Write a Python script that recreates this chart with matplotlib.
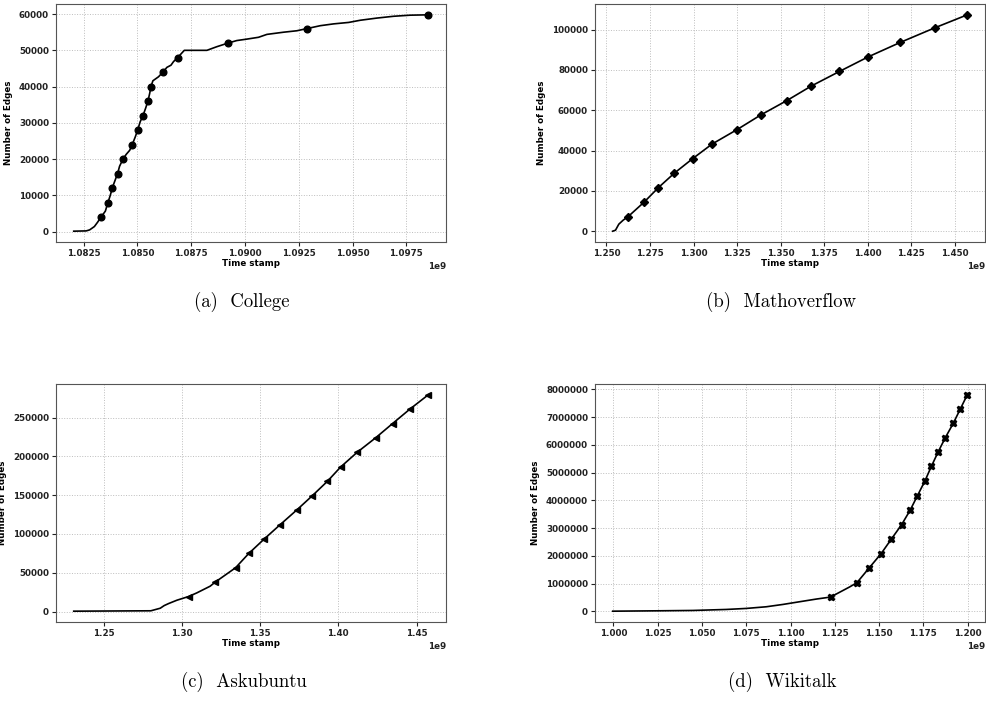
import numpy as np
import matplotlib
matplotlib.use("Agg")
import matplotlib.pyplot as plt
from matplotlib.ticker import ScalarFormatter, MultipleLocator

# time stamps in units of 1e9 seconds
college_x = [1.08204, 1.08262, 1.08278, 1.08300, 1.08315, 1.08331, 1.08351, 1.08363,
             1.08374, 1.08383, 1.08396, 1.08408, 1.08417, 1.08433, 1.08448, 1.08464,
             1.08476, 1.08490, 1.08501, 1.08513, 1.08526, 1.08538, 1.08549, 1.08557,
             1.08563, 1.08572, 1.08598, 1.08619, 1.08637, 1.08656, 1.08668, 1.08687,
             1.08718, 1.08823, 1.08869, 1.08921, 1.08962, 1.09009, 1.09063, 1.09102,
             1.09179, 1.09241, 1.09288, 1.09350, 1.09412, 1.09482, 1.09536, 1.09613,
             1.09691, 1.09768, 1.09852]
college_y = [100, 180, 460, 1380, 2580, 4000, 5630, 8000,
             10000, 12000, 14100, 16000, 18000, 20000, 21300, 22400,
             24000, 26100, 28000, 30300, 32000, 34000, 36000, 38100,
             40000, 41600, 42700, 44000, 45300, 45900, 46900, 48000,
             50000, 50000, 51000, 52000, 52700, 53100, 53600, 54400,
             55000, 55400, 56000, 56800, 57300, 57700, 58300, 58900,
             59400, 59700, 59800]
college_mx = [1.08331, 1.08363, 1.08383, 1.08408, 1.08433, 1.08476, 1.08501, 1.08526,
              1.08549, 1.08563, 1.08619, 1.08687, 1.08921, 1.09288, 1.09852]
college_my = [4000, 8000, 12000, 16000, 20000, 24000, 28000, 32000,
              36000, 40000, 44000, 48000, 52000, 56000, 59800]

math_mx = [1.2624, 1.2716, 1.2798, 1.2890, 1.2995, 1.3106, 1.3250, 1.3385,
           1.3536, 1.3676, 1.3837, 1.4001, 1.4186, 1.4383, 1.4571]
math_my = [7200, 14400, 21600, 28800, 36000, 43200, 50400, 57600,
           64800, 72000, 79200, 86400, 93600, 100800, 107300]
math_x = [1.2536, 1.2552, 1.2571, 1.2596] + math_mx
math_y = [0, 500, 3480, 5470] + math_my

ask_mx = [1.3043, 1.3213, 1.3343, 1.3428, 1.3528, 1.3628, 1.3734, 1.3834,
          1.3930, 1.4015, 1.4121, 1.4238, 1.4347, 1.4457, 1.4575]
ask_my = [19400, 37900, 56400, 74900, 93800, 111900, 130800, 149300,
          167800, 186300, 205300, 223800, 242300, 260800, 279300]
ask_x = [1.2309, 1.2802, 1.2862, 1.2887, 1.2915, 1.2968, 1.3043, 1.3096, 1.3181,
         1.3213, 1.3343, 1.3428, 1.3528, 1.3628, 1.3734, 1.3834,
         1.3930, 1.4015, 1.4121, 1.4238, 1.4347, 1.4457, 1.4575]
ask_y = [500, 1000, 4300, 7700, 10300, 14600, 19400, 24100, 32700,
         37900, 56400, 74900, 93800, 111900, 130800, 149300,
         167800, 186300, 205300, 223800, 242300, 260800, 279300]

wiki_mx = [1.1226, 1.1375, 1.1444, 1.1512, 1.1569, 1.1627, 1.1676, 1.1716,
           1.1759, 1.1795, 1.1834, 1.1874, 1.1919, 1.1959, 1.1998]
wiki_my = [519000, 1037700, 1568600, 2087500, 2606300, 3125200, 3656100, 4162900,
           4705900, 5224800, 5755700, 6262400, 6781300, 7300200, 7807000]
wiki_x = [0.9996, 1.0260, 1.0448, 1.0637, 1.0750, 1.0863, 1.0957, 1.1051, 1.1145,
          1.1226, 1.1333] + wiki_mx[1:]
wiki_y = [10000, 24000, 36000, 72000, 109000, 169000, 253000, 350000, 446000,
          519000, 881000] + wiki_my[1:]

captions = ["(a)  College", "(b)  Mathoverflow", "(c)  Askubuntu", "(d)  Wikitalk"]

plt.rcParams["font.family"] = "DejaVu Sans"
plt.rcParams["font.weight"] = "bold"
plt.rcParams["font.size"] = 6.3

fig = plt.figure(figsize=(9.86, 7.02), dpi=100)
W, H = 986, 702
boxes = [(56, 4), (595, 4), (56, 384), (595, 384)]
series = [(college_x, college_y, college_mx, college_my, "o", 4.8, 10000),
          (math_x, math_y, math_mx, math_my, "D", 4.3, 20000),
          (ask_x, ask_y, ask_mx, ask_my, "<", 4.5, 50000),
          (wiki_x, wiki_y, wiki_mx, wiki_my, "X", 5, 1000000)]
cap_pos = [(242, 302), (781, 302), (244, 682), (782, 682)]

for i, (lx, ly, mx, my, mk, ms, ystep) in enumerate(series):
    left, top = boxes[i]
    ax = fig.add_axes([left / W, 1 - (top + 238) / H, 390 / W, 238 / H])
    ax.plot(np.array(lx) * 1e9, ly, "-k", lw=1.2)
    ax.plot(np.array(mx) * 1e9, my, mk, color="k", ms=ms)
    ax.grid(True, color="#bdbdbd", linestyle=":", linewidth=0.7)
    ax.yaxis.set_major_locator(MultipleLocator(ystep))
    ax.ticklabel_format(axis="y", style="plain")
    fmt = ScalarFormatter(useOffset=False)
    fmt.set_powerlimits((0, 0))
    ax.xaxis.set_major_formatter(fmt)
    ax.set_xlabel("Time stamp", fontweight="bold", labelpad=1)
    ax.set_ylabel("Number of Edges", fontweight="bold")
    for s in ax.spines.values():
        s.set_color("#555555")
    ax.tick_params(colors="#222222", length=3, width=0.8, pad=2)
    ax.xaxis.get_offset_text().set_fontweight("bold")
    cx, cy = cap_pos[i]
    fig.text(cx / W, 1 - cy / H, captions[i], family="cmr10", fontweight="normal",
             fontsize=13.5, ha="center", va="center")

fig.savefig("out.png", dpi=100)
